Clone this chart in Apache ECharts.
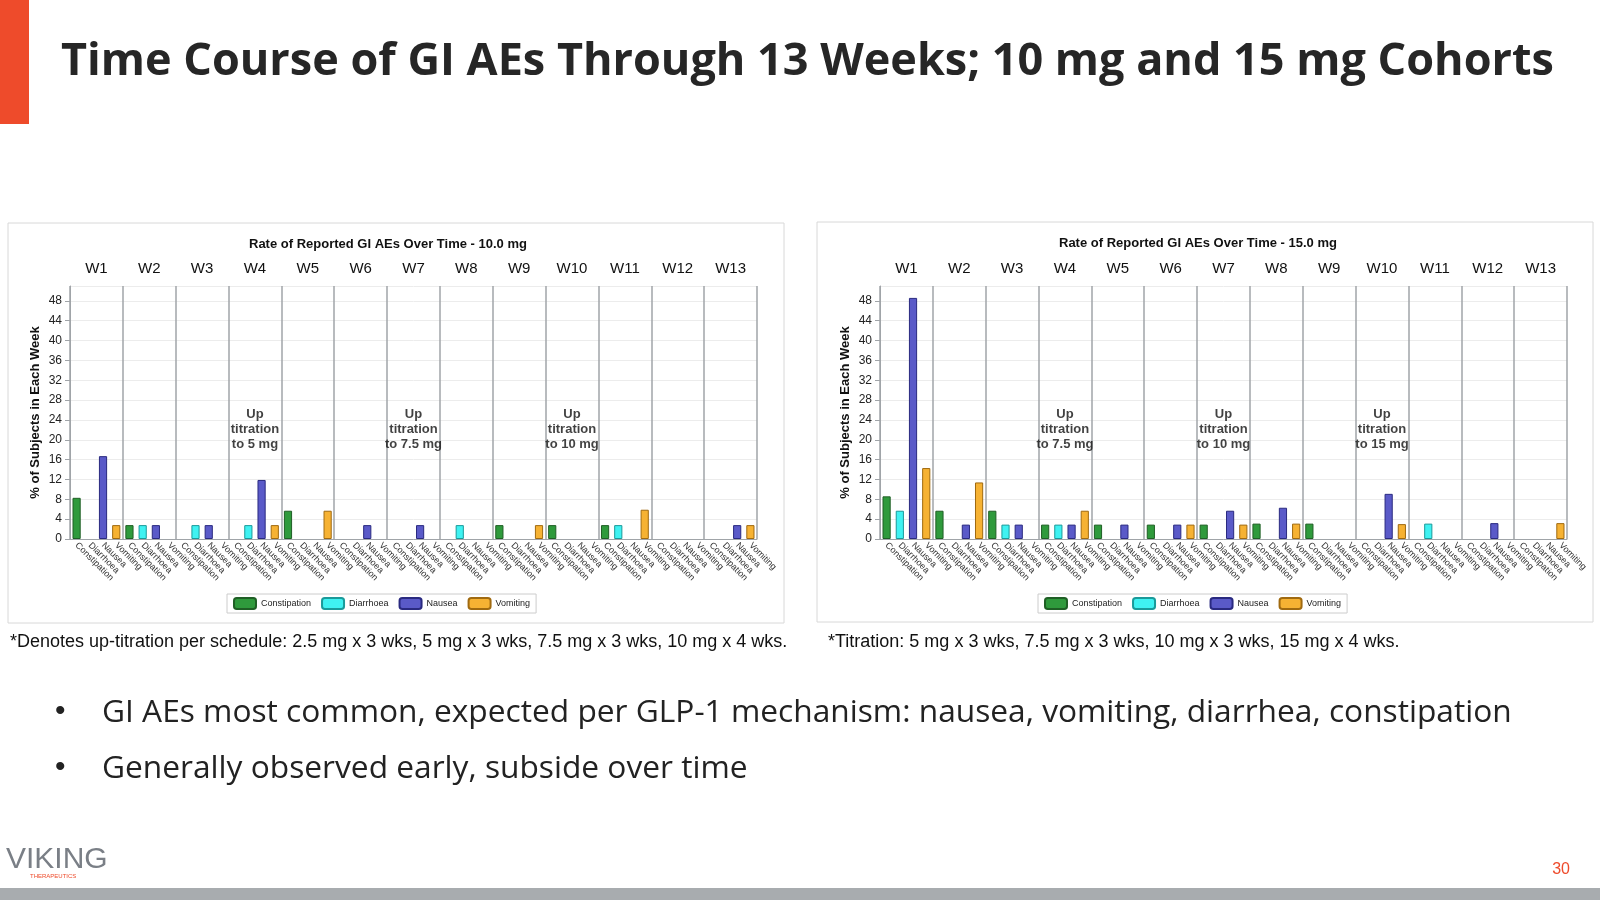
<!DOCTYPE html>
<html><head><meta charset="utf-8">
<script src="https://cdn.jsdelivr.net/npm/echarts@6/dist/echarts.min.js"></script>
<style>html,body{margin:0;padding:0;background:#fff}#container{width:1600px;height:900px}</style>
</head><body><div id="container"></div>
<script>
// weeks and adverse event types
var weeks = ["W1","W2","W3","W4","W5","W6","W7","W8","W9","W10","W11","W12","W13"];
var aeTypes = ["Constipation","Diarrhoea","Nausea","Vomiting"];
var aeColors = ["#2f9a3c","#3ff2f2","#5a5ac8","#f6b233"];
var aeBorders = ["#1f5f25","#1a9a9a","#2a2a80","#a06a10"];

// % of subjects per week, 10.0 mg cohort
var c10 = [8.3,2.8,0,0,5.7,0,0,0,2.8,2.8,2.8,0,0];
var d10 = [0,2.8,2.8,2.8,0,0,0,2.8,0,0,2.8,0,0];
var n10 = [16.7,2.8,2.8,11.9,0,2.8,2.8,0,0,0,0,0,2.8];
var v10 = [2.8,0,0,2.8,5.7,0,0,0,2.8,0,5.9,0,2.8];
// % of subjects per week, 15.0 mg cohort
var c15 = [8.6,5.7,5.7,2.9,2.9,2.9,2.9,3.1,3.1,0,0,0,0];
var d15 = [5.7,0,2.9,2.9,0,0,0,0,0,0,3.1,0,0];
var n15 = [48.6,2.9,2.9,2.9,2.9,2.9,5.7,6.3,0,9.1,0,3.2,0];
var v15 = [14.3,11.4,0,5.7,0,2.9,2.9,3.1,0,3.0,0,0,3.2];

// titration notes: [week index, text]
var notes10 = [[3,"Up\ntitration\nto 5 mg"],[6,"Up\ntitration\nto 7.5 mg"],[9,"Up\ntitration\nto 10 mg"]];
var notes15 = [[3,"Up\ntitration\nto 7.5 mg"],[6,"Up\ntitration\nto 10 mg"],[9,"Up\ntitration\nto 15 mg"]];

var slotCats = [];
weeks.forEach(function (w) { aeTypes.forEach(function (t) { slotCats.push(t); }); });

function slotData(vals, k) {
    var out = [];
    vals.forEach(function (v) {
        for (var j = 0; j < 4; j++) out.push(j === k && v > 0 ? v : null);
    });
    return out;
}

var chart = echarts.init(document.getElementById("container"));
var font = "Liberation Sans, Arial, sans-serif";
var grids = [
    {left: 70, width: 687, top: 286, height: 253},
    {left: 880, width: 687, top: 286, height: 253}
];
var xAxes = [], yAxes = [], series = [], legends = [];
[0, 1].forEach(function (g) {
    xAxes.push({
        type: "category", gridIndex: g, data: slotCats, position: "bottom",
        axisTick: {show: false}, axisLine: {lineStyle: {color: "#a0a4a8"}},
        axisLabel: {interval: 0, rotate: -45, fontSize: 9, color: "#333", fontFamily: font, margin: 5}
    });
    xAxes.push({
        type: "category", gridIndex: g, data: weeks, position: "top",
        axisTick: {show: false}, axisLine: {show: false},
        splitLine: {show: true, interval: 0, lineStyle: {color: "#a0a4a8", width: 1.5}},
        axisLabel: {interval: 0, fontSize: 15, color: "#111", fontFamily: font, margin: 10}
    });
    yAxes.push({
        type: "value", gridIndex: g, min: 0, max: 51, interval: 4,
        name: "% of Subjects in Each Week", nameLocation: "middle", nameGap: 28,
        nameTextStyle: {fontSize: 13, fontWeight: "bold", color: "#111", fontFamily: font},
        axisLine: {show: true, lineStyle: {color: "#a0a4a8"}}, axisTick: {show: true},
        axisLabel: {fontSize: 12, color: "#222", fontFamily: font, showMaxLabel: false},
        splitLine: {lineStyle: {color: "#ececec"}}
    });
    var sets = g === 0 ? [c10, d10, n10, v10] : [c15, d15, n15, v15];
    aeTypes.forEach(function (t, k) {
        series.push({
            type: "bar", name: t, xAxisIndex: g * 2, yAxisIndex: g, stack: "s" + g,
            data: slotData(sets[k], k), barWidth: "62%",
            itemStyle: {color: aeColors[k], borderColor: aeBorders[k], borderWidth: 1}
        });
    });
    var notes = g === 0 ? notes10 : notes15;
    series.push({
        type: "scatter", xAxisIndex: g * 2 + 1, yAxisIndex: g, symbolSize: 0, silent: true,
        data: notes.map(function (n) { return {value: [n[0], 22], label: {formatter: n[1]}}; }),
        label: {show: true, position: "inside", fontSize: 13, fontWeight: "bold",
            color: "#111", fontFamily: font, lineHeight: 15}
    });
    legends.push({
        data: aeTypes, left: g === 0 ? 227 : 1038, top: 594, itemWidth: 22, itemHeight: 11,
        itemGap: 10, padding: [3, 6], borderColor: "#ccc", borderWidth: 1,
        textStyle: {fontSize: 9, color: "#222", fontFamily: font}
    });
});

chart.setOption({
    animation: false,
    grid: grids, xAxis: xAxes, yAxis: yAxes, series: series, legend: legends,
    title: [
        {text: "Rate of Reported GI AEs Over Time - 10.0 mg", left: 244, top: 233,
            textStyle: {fontSize: 13, fontWeight: "bold", color: "#111", fontFamily: font}},
        {text: "Rate of Reported GI AEs Over Time - 15.0 mg", left: 1054, top: 232,
            textStyle: {fontSize: 13, fontWeight: "bold", color: "#111", fontFamily: font}}
    ],
    graphic: [
        {type: "rect", shape: {x: 0, y: 0, width: 29, height: 124}, style: {fill: "#ee4b2b"}},
        {type: "text", left: 61, top: 40, style: {text: "Time Course of GI AEs Through 13 Weeks; 10 mg and 15 mg Cohorts",
            fontSize: 45, fontWeight: "bold", fill: "#262626", fontFamily: "Open Sans, sans-serif"}},
        {type: "rect", shape: {x: 8, y: 223, width: 776, height: 400}, style: {fill: "none", stroke: "#d8d8d8"}},
        {type: "rect", shape: {x: 817, y: 222, width: 776, height: 400}, style: {fill: "none", stroke: "#d8d8d8"}},
        {type: "text", left: 10, top: 633, style: {text: "*Denotes up-titration per schedule: 2.5 mg x 3 wks, 5 mg x 3 wks, 7.5 mg x 3 wks, 10 mg x 4 wks.",
            fontSize: 18, fill: "#111", fontFamily: font}},
        {type: "text", left: 828, top: 633, style: {text: "*Titration: 5 mg x 3 wks, 7.5 mg x 3 wks, 10 mg x 3 wks, 15 mg x 4 wks.",
            fontSize: 18, fill: "#111", fontFamily: font}},
        {type: "text", left: 55, top: 697, style: {text: "•", fontSize: 30, fill: "#222"}},
        {type: "text", left: 102, top: 697, style: {text: "GI AEs most common, expected per GLP-1 mechanism: nausea, vomiting, diarrhea, constipation",
            fontSize: 31.7, fill: "#222", fontFamily: "Open Sans, sans-serif"}},
        {type: "text", left: 55, top: 753, style: {text: "•", fontSize: 30, fill: "#222"}},
        {type: "text", left: 102, top: 753, style: {text: "Generally observed early, subside over time",
            fontSize: 31.7, fill: "#222", fontFamily: "Open Sans, sans-serif"}},
        {type: "text", left: 6, top: 845, style: {text: "VIKING", fontSize: 30, fill: "#7a7f86", fontFamily: font}},
        {type: "text", left: 30, top: 873, style: {text: "THERAPEUTICS", fontSize: 6, fill: "#ee4b2b", fontFamily: font}},
        {type: "text", right: 30, top: 862, style: {text: "30", fontSize: 16, fill: "#ee4b2b", fontFamily: font}},
        {type: "rect", shape: {x: 0, y: 888, width: 1600, height: 12}, style: {fill: "#a8acaf"}}
    ]
});
</script></body></html>
